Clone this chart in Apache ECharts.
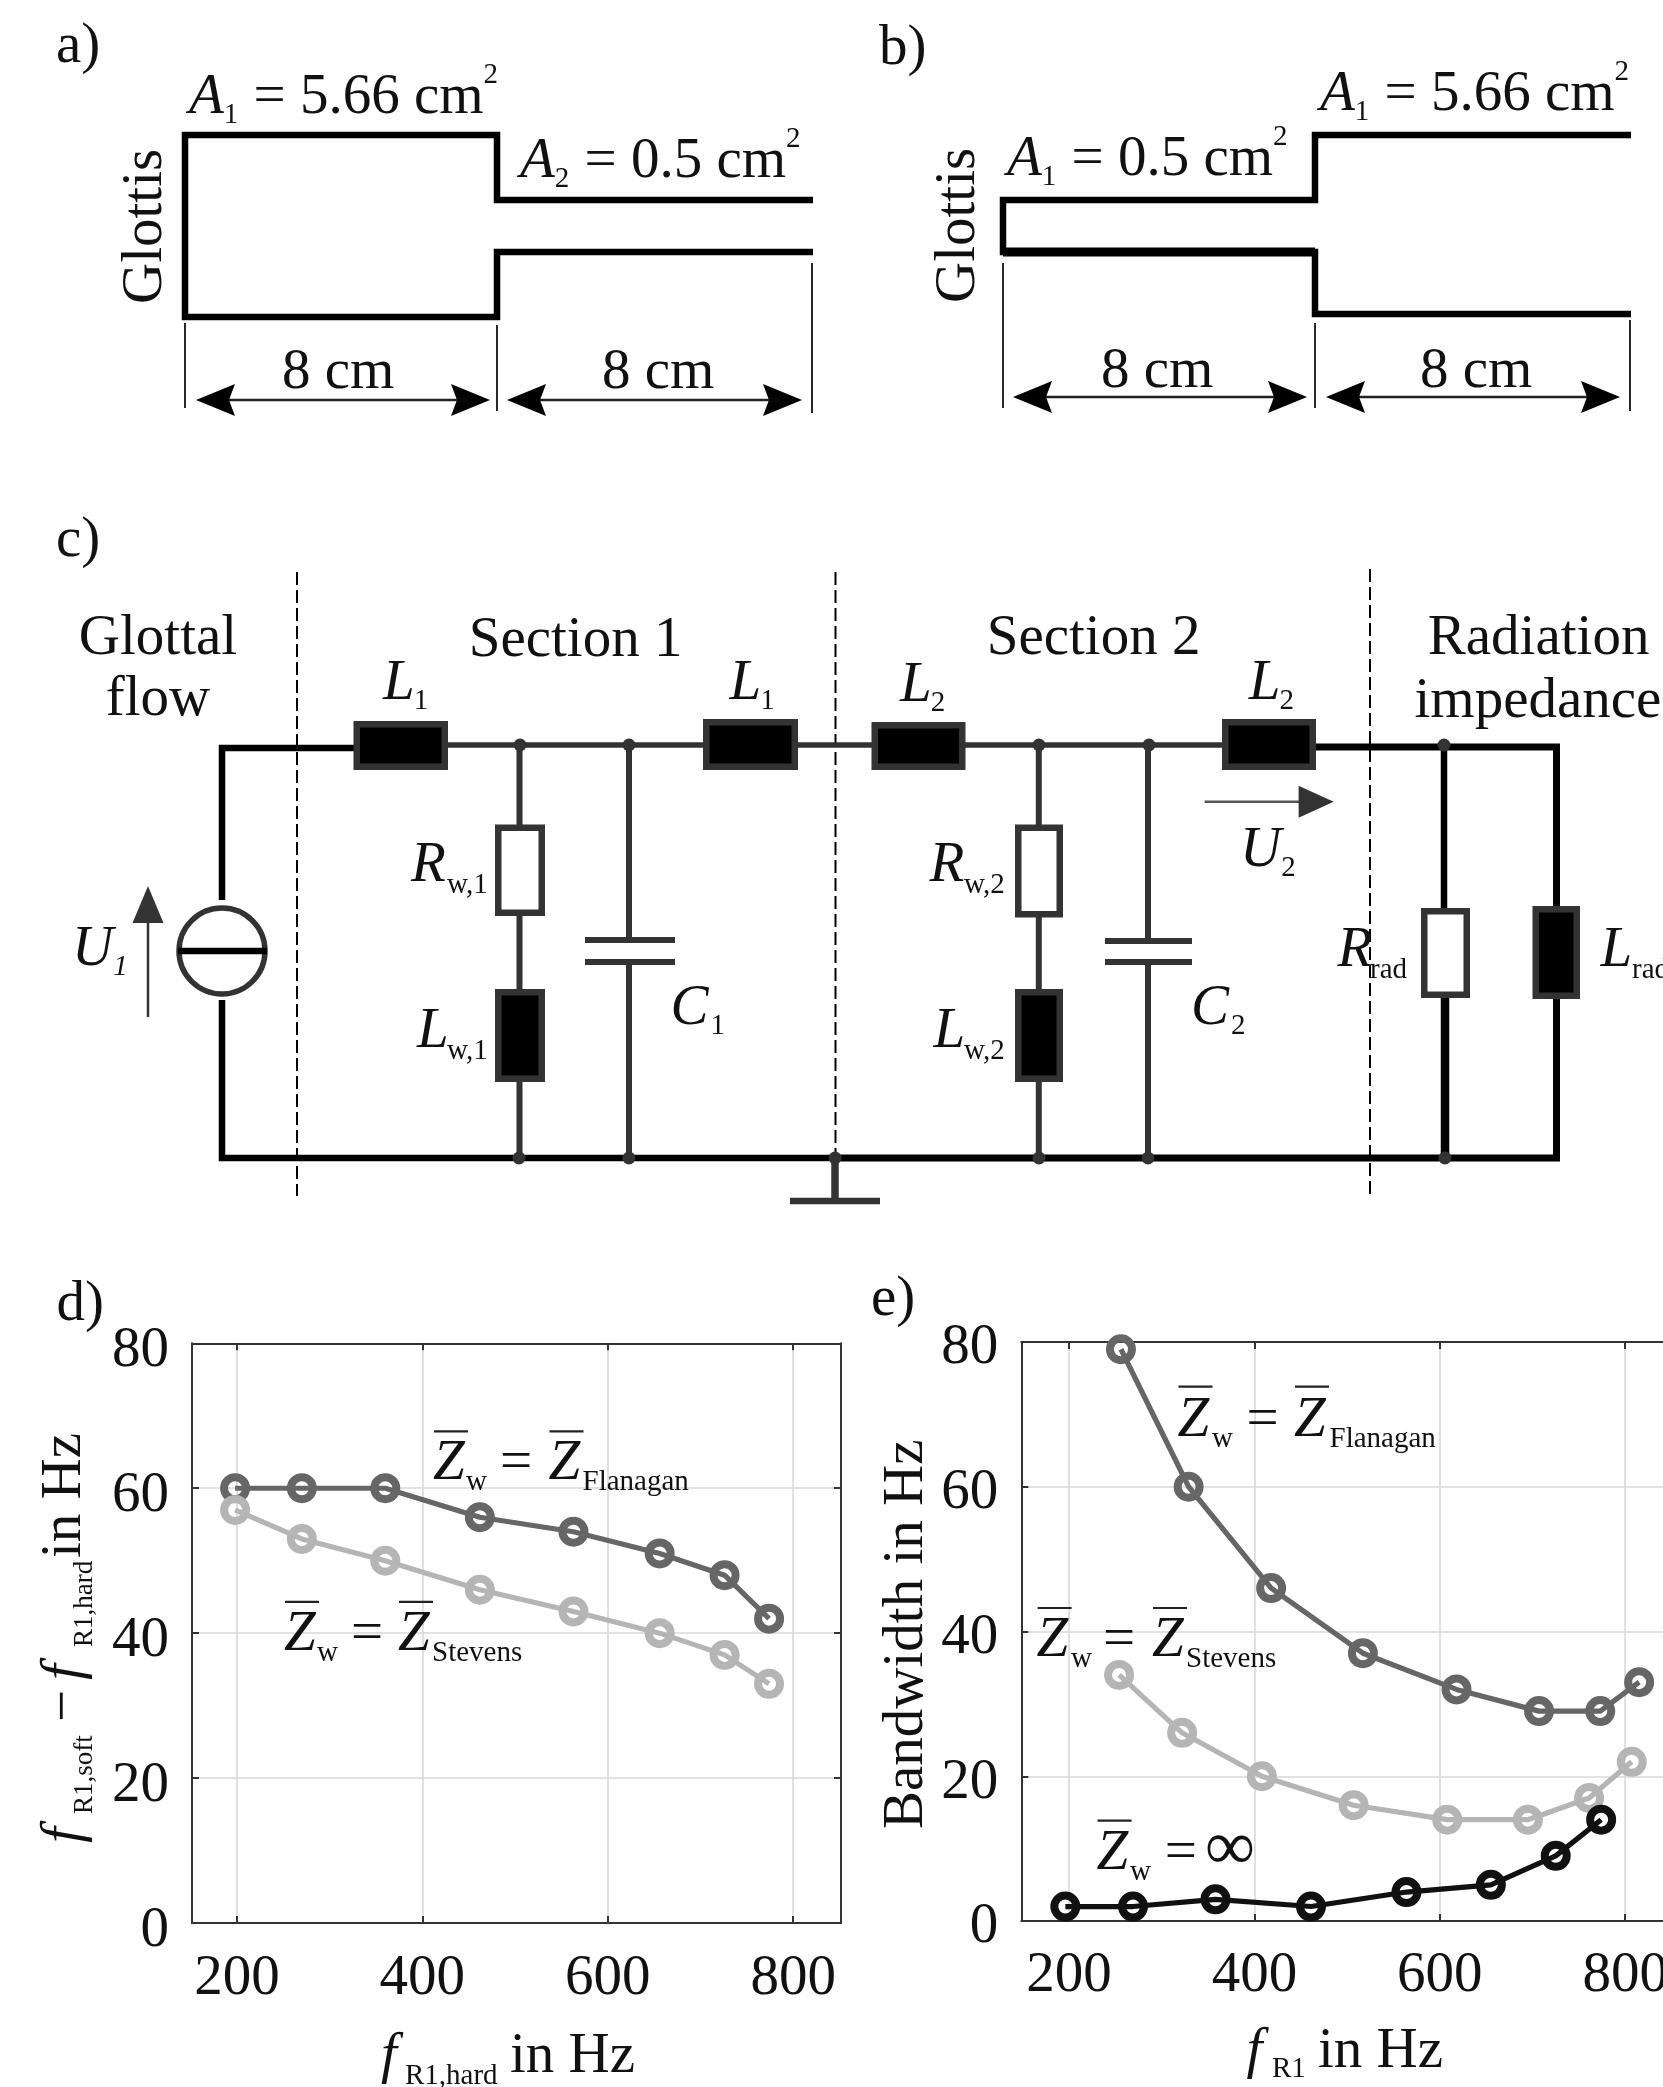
<!DOCTYPE html>
<html><head><meta charset="utf-8">
<style>html,body{margin:0;padding:0;background:#fff}#c{width:1663px;height:2087px}</style>
<script src="https://cdn.jsdelivr.net/npm/echarts@6/dist/echarts.min.js"></script>
</head><body><div id="c"></div>
<script>
// ---- data ----
const xTicks = [200, 400, 600, 800];
const dFreq = [198, 270, 360, 462, 563, 656, 726, 774];
const dFlanagan = [60, 60, 60, 56, 54, 51, 48, 42];
const dStevens = [57, 53, 50, 46, 43, 40, 37, 33];
const eFreqFlanagan = [256, 329, 418, 517, 618, 707, 773, 815];
const eFlanagan = [79, 60, 46, 37, 32, 29, 29, 33];
const eFreqStevens = [254, 322, 408, 507, 608, 695, 761, 807];
const eStevens = [34, 26, 20, 16, 14, 14, 17, 22];
const eFreqInf = [196, 269, 358, 461, 564, 655, 725, 774];
const eInf = [2, 2, 3, 2, 4, 5, 9, 14];

const FONT = '"Liberation Serif","Times New Roman",serif';
const M = 57, S = 29, INK = '#111', DARK = '#333';
const g = [];
const mctx = document.createElement('canvas').getContext('2d');
const fontOf = (size, it) => (it ? 'italic ' : '') + size + 'px ' + FONT;
const width = (t, size, it) => { mctx.font = fontOf(size, it); return mctx.measureText(t).width; };

function put(x, bl, t, size, it, rot) {
  const mid = 0.26 * size;
  const el = { type: 'text', silent: true, z: 5, style: { text: t, font: fontOf(size, it), fill: INK, align: 'left', verticalAlign: 'middle' } };
  if (rot) { el.x = x - mid; el.y = bl; el.rotation = Math.PI / 2; }
  else { el.x = x; el.y = bl - mid; }
  g.push(el);
}
// a horizontal run of pieces: [text, kind]; kind n,i main, s sub, S sup, si italic sub
function run(x, bl, pieces) {
  let cx = x;
  for (const p of pieces) {
    const k = p[1] || 'n', gap = p[2] || 0;
    cx += gap;
    const size = (k === 's' || k === 'S' || k === 'si') ? S : M;
    const it = k === 'i' || k === 'si';
    const off = (k === 's' || k === 'si') ? 10 : (k === 'S' ? -30 : 0);
    put(cx, bl + off, p[0], size, it);
    cx += width(p[0], size, it);
  }
}
function line(pts, w, col, extra) {
  g.push({ type: 'polyline', silent: true, z: 3, shape: { points: pts },
    style: Object.assign({ stroke: col || '#000', lineWidth: w, fill: 'none', lineJoin: 'miter', lineCap: 'butt' }, extra || {}) });
}
function box(x0, y0, x1, y1, fill, lw) {
  lw = lw || 6.5;
  g.push({ type: 'rect', silent: true, z: 4, shape: { x: x0 + lw / 2, y: y0 + lw / 2, width: x1 - x0 - lw, height: y1 - y0 - lw },
    style: { fill: fill, stroke: DARK, lineWidth: lw } });
}
function poly(pts, col) {
  g.push({ type: 'polygon', silent: true, z: 4, shape: { points: pts }, style: { fill: col || '#000' } });
}
function dot(x, y, r) {
  g.push({ type: 'circle', silent: true, z: 4, shape: { cx: x, cy: y, r: r || 6.5 }, style: { fill: DARK } });
}
function dimArrow(x0, x1, y) {
  line([[x0 + 20, y], [x1 - 20, y]], 2.5, '#222');
  poly([[x0, y], [x0 + 39, y - 16], [x0 + 33, y], [x0 + 39, y + 16]]);
  poly([[x1, y], [x1 - 39, y - 16], [x1 - 33, y], [x1 - 39, y + 16]]);
}
const eqArea = (x, bl, idx, val) => run(x, bl, [['A', 'i'], [idx, 's'], [' = ' + val + ' cm', 'n', 1], ['2', 'S', 0]]);

// panel a
put(56, 62, 'a)', M);
line([[813, 200], [497, 200], [497, 135], [185, 135], [185, 317], [497, 317], [497, 252], [813, 252]], 6.5, '#000');
line([[185, 323], [185, 408]], 1.8, '#111');
line([[497, 325], [497, 411]], 1.8, '#111');
line([[812, 263], [812, 413]], 1.8, '#111');
dimArrow(196, 490, 400);
dimArrow(507, 802, 400);
put(282, 388, '8 cm', M);
put(602, 388, '8 cm', M);
eqArea(189, 113, '1', '5.66');
eqArea(520, 177, '2', '0.5');
put(161, 304, 'Glottis', M, false, true);

// panel b
put(879, 64, 'b)', M);
line([[1631, 135], [1315, 135], [1315, 200], [1003, 200], [1003, 252], [1315, 252], [1315, 314], [1631, 314]], 6.5, '#000');
line([[1003, 252], [1315, 252]], 9, '#000');
line([[1003, 263], [1003, 408]], 1.8, '#111');
line([[1315, 323], [1315, 408]], 1.8, '#111');
line([[1630, 320], [1630, 411]], 1.8, '#111');
dimArrow(1013, 1307, 397);
dimArrow(1326, 1620, 397);
put(1101, 387, '8 cm', M);
put(1420, 387, '8 cm', M);
eqArea(1320, 110, '1', '5.66');
eqArea(1007, 175, '1', '0.5');
put(974, 303, 'Glottis', M, false, true);

// panel c
put(56, 556, 'c)', M);
const dash = { lineDash: [13, 5] };
line([[297, 572], [297, 1196]], 2, '#000', dash);
line([[835.5, 572], [835.5, 1158]], 2, '#000', dash);
line([[1370, 569], [1370, 1195]], 2, '#000', dash);
line([[222, 900], [222, 748], [360, 748]], 6.5, '#000');
line([[222, 1000], [222, 1158], [835, 1158]], 6.5, '#000');
line([[440, 745], [1230, 745]], 5.5, DARK);
line([[835, 1158], [1556.5, 1158], [1556.5, 747], [1310, 747]], 7, '#000');
g.push({ type: 'circle', silent: true, z: 4, shape: { cx: 222, cy: 951, r: 43 }, style: { fill: '#fff', stroke: DARK, lineWidth: 5.5 } });
line([[178, 951], [267, 951]], 6.5, '#000');
g[g.length - 1].z = 5;
line([[148, 1017], [148, 915]], 2.5, DARK);
poly([[148, 886], [132.5, 923], [163.5, 923]], DARK);
run(72, 965, [['U', 'i'], ['1', 'si', 0]]);
// section 1 parts
box(353.5, 721, 448, 770, '#000');
box(703, 719, 798, 770, '#000');
line([[519.5, 745], [519.5, 1158]], 6, DARK);
box(495, 824.5, 545, 916, '#fff');
box(495, 989, 545, 1082, '#000');
line([[629, 745], [629, 940]], 6, DARK);
line([[629, 962], [629, 1158]], 6, DARK);
line([[585, 940], [675, 940]], 6, DARK);
line([[585, 962], [675, 962]], 6, DARK);
[[520, 745], [629, 745], [519, 1158], [629, 1158], [835, 1158], [1039, 745], [1149, 745], [1039, 1158], [1148, 1158], [1444, 745], [1445, 1158]].forEach(p => dot(p[0], p[1]));
line([[835, 1158], [835, 1201]], 7.5, DARK);
line([[790, 1201], [880, 1201]], 6.5, DARK);
// section 2 parts
box(871.5, 722, 965.5, 770, '#000');
box(1222, 719, 1316, 770, '#000');
line([[1038.8, 745], [1038.8, 1158]], 6, DARK);
box(1015, 824.5, 1063, 917.5, '#fff');
box(1015, 989, 1063, 1082, '#000');
line([[1148, 745], [1148, 941]], 6, DARK);
line([[1148, 962], [1148, 1158]], 6, DARK);
line([[1105, 941], [1192, 941]], 6, DARK);
line([[1105, 962], [1192, 962]], 6, DARK);
line([[1444, 746], [1444, 908]], 6.5, '#000');
line([[1445, 998], [1445, 1158]], 8.5, '#000');
box(1421, 908, 1470, 998, '#fff');
box(1532.5, 906, 1580, 999, '#000');
line([[1204.6, 801.7], [1305, 801.7]], 2.5, '#555');
poly([[1333.7, 801.7], [1298.6, 785.7], [1298.6, 817.7]], DARK);
run(1240, 865.5, [['U', 'i'], ['2', 's', 0]]);
// labels of panel c
put(158 - width('Glottal', M) / 2, 653.6, 'Glottal', M);
put(158 - width('flow', M) / 2, 715, 'flow', M);
put(468.7, 656, 'Section 1', M);
put(986.7, 653.6, 'Section 2', M);
put(1427.8, 653.6, 'Radiation', M);
put(1414.5, 716.5, 'impedance', M);
run(383, 699, [['L', 'i'], ['1', 's', -1]]);
run(729.5, 699, [['L', 'i'], ['1', 's', -1]]);
run(900, 701, [['L', 'i'], ['2', 's', -1]]);
run(1248.7, 699, [['L', 'i'], ['2', 's', -1]]);
run(411, 881, [['R', 'i']]); put(447, 893, 'w,1', S);
run(417, 1047, [['L', 'i']]); put(447, 1058.7, 'w,1', S);
run(929.4, 881, [['R', 'i']]); put(964, 893, 'w,2', S);
run(933.6, 1047, [['L', 'i']]); put(964, 1058.7, 'w,2', S);
run(670.6, 1023.7, [['C', 'i'], ['1', 's', 2]]);
run(1191, 1023.7, [['C', 'i'], ['2', 's', 2]]);
run(1337.4, 965.5, [['R', 'i']]); put(1370, 978, 'rad', S);
run(1600.5, 965.5, [['L', 'i']]); put(1632, 978, 'rad', S);

// panel d and e annotations
function zLabel(xz, bl, xw, xeq, xz2, xsub, sub, barY) {
  put(xz, bl, 'Z', M, true);
  put(xw, bl + 11, 'w', S);
  put(xeq, bl, '=', M);
  const barW = 34;
  line([[xz + 1, barY], [xz + 1 + barW, barY]], 2.2, '#222');
  if (xz2 !== null) {
    put(xz2, bl, 'Z', M, true);
    put(xsub, bl + 11, sub, S);
    line([[xz2 + 1, barY], [xz2 + 1 + barW, barY]], 2.2, '#222');
  }
}
put(56.5, 1320, 'd)', M);
zLabel(433, 1479, 466, 500, 548.5, 582.5, 'Flanagan', 1431.4);
zLabel(284, 1650, 317, 351, 398, 432, 'Stevens', 1601.8);
// rotated y title of panel d, piece by piece
put(79.5, 1843, 'f', M, true, true);
put(92, 1814, 'R1,soft', 27, false, true);
put(79.5, 1722, '\u2212', M, false, true);
put(79.5, 1680, 'f', M, true, true);
put(92, 1647, 'R1,hard', 27, false, true);
put(79.5, 1558, 'in Hz', M, false, true);
put(381, 2072, 'f', M, true); put(405, 2084, 'R1,hard', S); put(510, 2072, 'in Hz', M);

put(871, 1315, 'e)', M);
zLabel(1177.5, 1435.6, 1212, 1246.6, 1294, 1329.5, 'Flanagan', 1386.6);
zLabel(1036.6, 1655.6, 1071, 1103, 1152, 1186, 'Stevens', 1608);
zLabel(1096.6, 1869, 1130, 1164.7, null, 0, '', 1820.7);
put(1205, 1869, '\u221E', 70);
put(921.4, 1829, 'Bandwidth in Hz', M, false, true);
put(1246.6, 2067, 'f', M, true); put(1272, 2077, 'R1', S); put(1318, 2067, 'in Hz', M);

// ---- axes ----
const pairs = (xs, ys) => xs.map((x, i) => [x, ys[i]]);
const frame = { show: true, onZero: false, lineStyle: { color: DARK, width: 2 } };
const tick = { show: true, inside: true, length: 7, lineStyle: { color: DARK, width: 2 } };
const grid = { show: true, lineStyle: { color: '#d9d9d9', width: 1.6 } };
const lab = { show: true, fontFamily: FONT, fontSize: M, color: INK };
function xAxes(idx, min, max, margin) {
  return [
    { type: 'value', gridIndex: idx, position: 'bottom', min, max, axisLine: frame,
      axisTick: Object.assign({ customValues: xTicks }, tick), splitLine: grid,
      axisLabel: Object.assign({ customValues: xTicks, margin, hideOverlap: false, showMinLabel: true, showMaxLabel: true }, lab) },
    { type: 'value', gridIndex: idx, position: 'top', min, max, axisLine: frame,
      axisTick: Object.assign({ customValues: xTicks }, tick), splitLine: { show: false }, axisLabel: { show: false } }
  ];
}
function yAxes(idx, lh) {
  return [
    { type: 'value', gridIndex: idx, position: 'left', min: 0, max: 80, interval: 20, axisLine: frame, axisTick: tick, splitLine: grid,
      axisLabel: Object.assign({ margin: 23, verticalAlign: 'top', lineHeight: lh, hideOverlap: false }, lab) },
    { type: 'value', gridIndex: idx, position: 'right', min: 0, max: 80, interval: 20, axisLine: frame, axisTick: tick,
      splitLine: { show: false }, axisLabel: { show: false } }
  ];
}
function ser(name, xi, yi, data, col) {
  return { name, type: 'line', xAxisIndex: xi, yAxisIndex: yi, data, symbol: 'circle', symbolSize: 22, showSymbol: true, clip: false,
    lineStyle: { color: col, width: 5.2 }, itemStyle: { color: 'transparent', borderColor: col, borderWidth: 8 }, z: 3 };
}
const chart = echarts.init(document.getElementById('c'), null, { renderer: 'canvas', width: 1663, height: 2087 });
chart.setOption({
  animation: false,
  backgroundColor: '#fff',
  grid: [
    { left: 192, top: 1343.3, width: 649, height: 579.7, outerBoundsMode: 'none', containLabel: false },
    { left: 1021.3, top: 1342, width: 649, height: 579, outerBoundsMode: 'none', containLabel: false }
  ],
  xAxis: xAxes(0, 151.5, 851.6, 28).concat(xAxes(1, 148.5, 848.6, 27)),
  yAxis: yAxes(0, 16).concat(yAxes(1, 13)),
  series: [
    ser('d Flanagan', 0, 0, pairs(dFreq, dFlanagan), '#666'),
    ser('d Stevens', 0, 0, pairs(dFreq, dStevens), '#b5b5b5'),
    ser('e Flanagan', 2, 2, pairs(eFreqFlanagan, eFlanagan), '#666'),
    ser('e Stevens', 2, 2, pairs(eFreqStevens, eStevens), '#b5b5b5'),
    ser('e infinity', 2, 2, pairs(eFreqInf, eInf), '#111')
  ],
  graphic: { elements: g }
});
</script></body></html>
